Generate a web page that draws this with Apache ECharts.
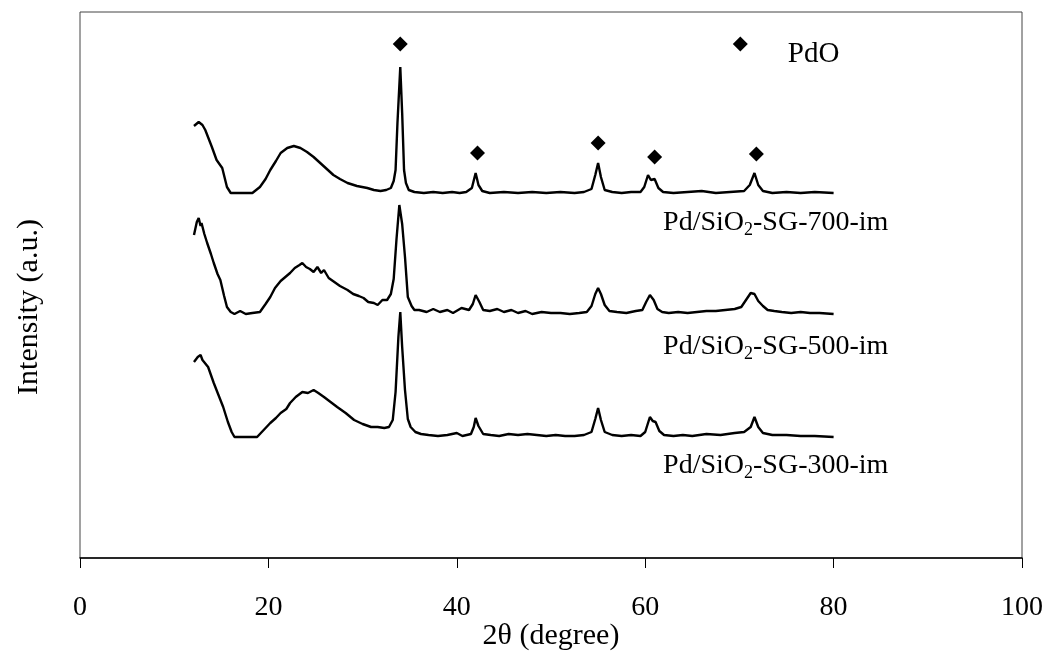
<!DOCTYPE html>
<html>
<head>
<meta charset="utf-8">
<script src="https://cdn.jsdelivr.net/npm/echarts@6/dist/echarts.min.js"></script>
<style>html,body{margin:0;padding:0;background:#fff;}#c{width:1050px;height:655px;}</style>
</head>
<body>
<div id="c"></div>
<script>
// ---- DATA (2θ in degrees, intensity in a.u. relative to each pattern's baseline) ----
const x700 = [12.1,12.6,13.0,13.3,14.0,14.5,15.1,15.6,16.0,17.0,18.3,19.1,19.7,20.2,20.8,21.3,22.0,22.7,23.4,24.1,24.8,25.5,26.2,26.9,27.6,28.4,29.4,30.5,31.2,31.9,32.5,33.0,33.3,33.5,33.7,34.0,34.2,34.4,34.6,34.9,35.5,36.5,37.5,38.5,39.5,40.3,41.0,41.6,42.0,42.3,42.7,43.5,45.0,46.5,48.0,49.5,51.0,52.5,53.5,54.3,54.7,55.0,55.3,55.7,56.5,57.5,58.5,59.5,59.9,60.3,60.6,61.0,61.4,61.9,63.0,64.5,66.0,67.5,69.0,70.5,71.1,71.6,72.0,72.5,73.5,75.0,76.5,78.0,80.0];
const y700 = [67,71,68,63,46,33,25,6,0,0,0,6,14,23,32,40,45,47,45,41,36,30,24,18,14,10,7,5,3,2,3,5,12,23,70,126,80,23,10,3,1,0,1,0,1,0,1,5,20,8,2,0,1,0,1,0,1,0,1,4,18,30,16,3,1,0,1,1,6,18,13,14,5,1,0,1,2,0,1,2,8,20,8,2,0,1,0,1,0];

const x500 = [12.1,12.4,12.6,12.8,12.9,13.2,13.5,13.9,14.2,14.6,14.9,15.3,15.6,16.0,16.4,17.0,17.6,18.3,19.1,19.7,20.2,20.7,21.3,21.8,22.3,22.8,23.3,23.6,24.0,24.4,24.8,25.2,25.6,25.9,26.4,27.0,27.6,28.4,29.0,29.6,30.1,30.6,31.2,31.6,32.1,32.6,33.0,33.3,33.6,33.9,34.2,34.5,34.8,35.2,35.5,36.0,36.8,37.5,38.2,39.0,39.6,40.5,41.3,41.7,42.0,42.4,42.8,43.5,44.3,45.0,45.8,46.5,47.3,48.0,49.0,50.0,51.0,52.0,53.0,53.8,54.3,54.7,55.0,55.3,55.7,56.2,57.0,58.0,59.0,59.7,60.1,60.5,60.9,61.3,61.8,62.5,63.5,64.5,65.5,66.5,67.5,68.5,69.5,70.2,70.7,71.2,71.6,72.0,72.5,73.0,73.7,74.5,75.5,76.5,77.5,78.5,80.0];
const y500 = [79,92,96,88,91,80,71,60,51,40,34,18,7,2,0,3,0,1,2,10,17,26,33,37,41,46,49,51,47,45,42,47,41,44,36,32,28,24,20,18,16,12,11,9,14,14,20,35,75,109,90,57,17,8,4,4,2,5,2,4,1,6,4,10,19,12,4,3,5,2,4,1,3,0,2,1,1,0,1,2,8,20,26,20,9,3,2,1,3,4,12,19,14,5,2,1,2,1,2,3,3,4,5,7,14,21,20,13,8,4,3,2,1,2,1,1,0];

const x300 = [12.1,12.5,12.8,13.0,13.2,13.6,14.2,14.7,15.2,15.7,16.1,16.4,17.2,18.0,18.8,19.5,20.2,20.8,21.3,21.9,22.3,22.9,23.6,24.2,24.8,25.3,25.9,26.6,27.3,28.2,29.1,30.0,30.9,31.6,32.3,32.8,33.2,33.5,33.8,34.0,34.2,34.5,34.8,35.1,35.6,36.2,37.0,38.0,39.0,40.0,40.6,41.5,41.8,42.0,42.3,42.8,43.6,44.5,45.5,46.5,47.5,48.5,49.5,50.5,51.5,52.5,53.5,54.3,54.7,55.0,55.3,55.7,56.5,57.5,58.5,59.5,60.0,60.5,60.8,61.1,61.5,62.0,63.0,64.0,65.0,66.5,68.0,69.5,70.5,71.2,71.6,72.0,72.5,73.5,75.0,76.5,78.0,80.0];
const y300 = [75,80,82,77,79,70,54,42,30,15,5,0,0,0,0,7,14,19,24,28,34,40,45,44,47,44,40,35,30,24,17,13,10,10,9,10,17,45,100,125,90,47,18,10,5,3,2,1,2,4,1,3,10,19,11,3,2,1,3,2,3,2,1,2,1,1,2,5,18,29,17,5,2,1,2,1,5,20,16,15,6,2,1,2,1,3,2,4,5,10,20,10,4,2,2,1,1,0];

// vertical stacking offsets of the three patterns (a.u.)
const offset700 = 365, offset500 = 244, offset300 = 121;

// PdO reflection markers [2θ, a.u.]
const pdoX = [34.0, 42.2, 55.0, 61.0, 71.8];
const pdoY = [514, 405, 415, 401, 404];
const legendX = 70.1, legendY = 514;

const seriesNames = ['700', '500', '300'];
const labelX = [61.9, 61.9, 61.9];
const labelY = [335, 211, 92];

const xTicks = [0, 20, 40, 60, 80, 100];

// ---- CHART ----
const FONT = "'Liberation Serif','Times New Roman',serif";
const chart = echarts.init(document.getElementById('c'), null, {renderer: 'canvas'});
const pairs = (xs, ys, off) => xs.map((x, i) => [x, ys[i] + off]);

const lineStyle = {color: '#000', width: 2.4};
const mkLine = (name, xs, ys, off) => ({
  name, type: 'line', data: pairs(xs, ys, off), showSymbol: false, symbol: 'none',
  lineStyle, smooth: false, z: 3, silent: true
});

chart.setOption({
  animation: false,
  backgroundColor: '#fff',
  grid: {left: 80, right: 28, top: 12, bottom: 97, show: true, borderColor: '#444', borderWidth: 1,
    containLabel: false, outerBoundsMode: 'none'},
  xAxis: {
    type: 'value', min: xTicks[0], max: xTicks[xTicks.length - 1], interval: 20,
    name: '2θ (degree)', nameLocation: 'middle', nameGap: 63, nameMoveOverlap: false,
    nameTextStyle: {fontFamily: FONT, fontSize: 30, color: '#000'},
    axisLine: {show: true, lineStyle: {color: '#000', width: 1.5}},
    axisTick: {show: true, inside: false, length: 10, lineStyle: {color: '#000', width: 1}},
    axisLabel: {fontFamily: FONT, fontSize: 28, color: '#000', margin: 36},
    splitLine: {show: false}
  },
  yAxis: {
    type: 'value', min: 0, max: 546,
    name: 'Intensity (a.u.)', nameLocation: 'middle', nameGap: 36, nameMoveOverlap: false,
    nameTextStyle: {fontFamily: FONT, fontSize: 30, color: '#000', padding: [0, 44, 0, 0]},
    axisLine: {show: false}, axisTick: {show: false}, axisLabel: {show: false},
    splitLine: {show: false}
  },
  series: [
    mkLine('Pd/SiO2-SG-700-im', x700, y700, offset700),
    mkLine('Pd/SiO2-SG-500-im', x500, y500, offset500),
    mkLine('Pd/SiO2-SG-300-im', x300, y300, offset300),
    {
      name: 'PdO', type: 'scatter', symbol: 'diamond', symbolSize: 15,
      itemStyle: {color: '#000', opacity: 1}, z: 4, silent: true,
      data: pdoX.map((x, i) => [x, pdoY[i]]).concat([{
        value: [legendX, legendY],
        label: {show: true, formatter: 'PdO', position: 'right', distance: 40, offset: [0, 10],
          fontFamily: FONT, fontSize: 29, color: '#000', opacity: 1}
      }])
    },
    {
      name: 'labels', type: 'scatter', symbolSize: 0, silent: true, z: 5,
      itemStyle: {opacity: 1},
      data: seriesNames.map((n, i) => ({value: [labelX[i], labelY[i]], name: n})),
      label: {
        show: true, position: 'right', distance: 0, opacity: 1, color: '#000',
        formatter: p => '{a|Pd/SiO}{s|2}{a|-SG-' + p.name + '-im}',
        rich: {
          a: {fontFamily: FONT, fontSize: 28, color: '#000', lineHeight: 32},
          s: {fontFamily: FONT, fontSize: 18, color: '#000', lineHeight: 18, verticalAlign: 'bottom'}
        }
      }
    }
  ]
});
</script>
</body>
</html>
